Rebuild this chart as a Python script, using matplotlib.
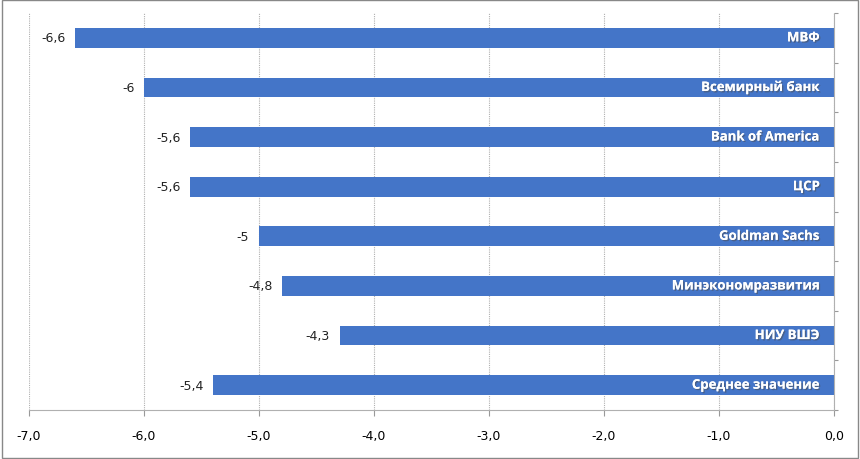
import matplotlib.pyplot as plt
from matplotlib import patheffects

names = ["МВФ", "Всемирный банк", "Bank of America", "ЦСР", "Goldman Sachs",
         "Минэкономразвития", "НИУ ВШЭ", "Среднее значение"]
values = [-6.6, -6.0, -5.6, -5.6, -5.0, -4.8, -4.3, -5.4]
value_labels = ["-6,6", "-6", "-5,6", "-5,6", "-5", "-4,8", "-4,3", "-5,4"]
ticks = [-7, -6, -5, -4, -3, -2, -1, 0]
tick_labels = ["-7,0", "-6,0", "-5,0", "-4,0", "-3,0", "-2,0", "-1,0", "0,0"]

fig = plt.figure(figsize=(8.6, 4.6), dpi=100)
ax = fig.add_axes([29 / 860, 1 - 411 / 460, (834 - 29) / 860, (411 - 14) / 460])

pos = list(range(len(names)))
ax.barh(pos, values, height=0.4, color="#4475C8", zorder=2)
ax.set_ylim(len(names) - 0.5, -0.5)
ax.set_xlim(-7, 0)

for y, v, lab, name in zip(pos, values, value_labels, names):
    ax.annotate(lab, (v, y), xytext=(-7, 0), textcoords="offset points",
                ha="right", va="center", fontsize=9, color="#222222")
    t = ax.annotate(name, (0, y), xytext=(-10, 0), textcoords="offset points",
                    ha="right", va="center", fontsize=9.5, fontweight="bold",
                    color="white", family="Open Sans")
    t.set_path_effects([patheffects.withSimplePatchShadow(offset=(1, -1), alpha=0.5),
                        patheffects.Normal()])

ax.set_xticks(ticks)
ax.set_xticklabels(tick_labels, fontsize=9)
ax.xaxis.grid(True, color="#b0b0b0", linewidth=0.8, linestyle=(0, (1, 1)))
ax.set_axisbelow(True)
ax.tick_params(axis="x", length=4, color="#999999", pad=10)

ax.yaxis.tick_right()
ax.set_yticks([p - 0.5 for p in pos] + [len(names) - 0.5])
ax.set_yticklabels([])
ax.tick_params(axis="y", length=3, color="#999999", direction="out")

for s in ["top", "left"]:
    ax.spines[s].set_visible(False)
ax.spines["bottom"].set_color("#b0b0b0")
ax.spines["right"].set_color("#b0b0b0")
ax.spines["right"].set_linestyle((0, (1, 1)))

fig.patches.append(plt.Rectangle((0.002, 0.002), 0.996, 0.996, transform=fig.transFigure,
                                 fill=False, edgecolor="#888888", linewidth=1))

fig.savefig("out.png", dpi=100)
